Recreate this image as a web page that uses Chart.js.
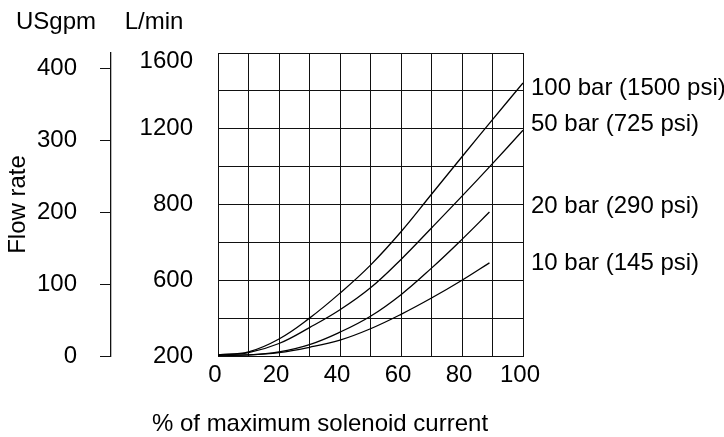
<!DOCTYPE html>
<html>
<head>
<meta charset="utf-8">
<script src="https://cdn.jsdelivr.net/npm/chart.js@4/dist/chart.umd.min.js"></script>
<style>
  html, body { margin: 0; padding: 0; background: #fff; }
  canvas { display: block; }
</style>
</head>
<body>
<canvas id="flow-chart" width="724" height="437"></canvas>
<script>
// x values: % of maximum solenoid current
const currentFull = [0, 10, 20, 30, 40, 50, 60, 70, 80, 90, 100];
const currentShort = [0, 10, 20, 30, 40, 50, 60, 70, 80, 89];

// flow in grid rows (0 = bottom line, 8 = top line)
const bar100 = [0.03, 0.11, 0.45, 1.0, 1.66, 2.40, 3.28, 4.27, 5.26, 6.24, 7.21];
const bar50 = [0.03, 0.09, 0.33, 0.75, 1.22, 1.80, 2.55, 3.38, 4.22, 5.08, 5.96];
const bar20 = [0.02, 0.03, 0.11, 0.30, 0.63, 1.05, 1.62, 2.32, 3.08, 3.80];
const bar10 = [0.02, 0.03, 0.09, 0.23, 0.42, 0.72, 1.10, 1.53, 2.00, 2.46];

const seriesNames = ['100 bar (1500 psi)', '50 bar (725 psi)', '20 bar (290 psi)', '10 bar (145 psi)'];

// L/min labels on the grid rows (the printed scale is not linear)
const litreTicks = ['200', '', '600', '', '800', '', '1200', '', '1600'];
// USgpm scale
const gpmTicks = [0, 100, 200, 300, 400];
const gpmMax = 422;

const xTitle = '% of maximum solenoid current';

const FONT = '"Liberation Sans", Arial, Helvetica, sans-serif';
const FS = 24;

function toPoints(xs, ys) {
    return xs.map((x, i) => ({ x: x, y: ys[i] }));
}

// headers, x title (wider than the plot) and curve names
const textPlugin = {
    id: 'textPlugin',
    afterDraw(chart) {
        const ctx = chart.ctx;
        const area = chart.chartArea;
        const yScale = chart.scales.y;
        ctx.save();
        ctx.fillStyle = '#000';
        ctx.font = FS + 'px ' + FONT;
        ctx.textBaseline = 'middle';
        ctx.textAlign = 'center';
        ctx.fillText('USgpm', chart.scales.gpm.right - 55, 22);
        ctx.fillText('L/min', yScale.left + 43, 22);
        ctx.fillText(xTitle, area.left + 102, chart.height - 13);

        ctx.textAlign = 'left';
        const nudge = [5, -6, -6, 1];
        chart.data.datasets.forEach((ds, i) => {
            const last = ds.data[ds.data.length - 1];
            const py = yScale.getPixelForValue(last.y) + nudge[i];
            ctx.fillText(seriesNames[i], area.right + 8, py);
        });
        ctx.restore();
    }
};

window.addEventListener('load', onLoad);

function onLoad() {
    const ctx = document.getElementById('flow-chart').getContext('2d');
    const lineStyle = {
        borderColor: '#000',
        borderWidth: 1.3,
        pointRadius: 0,
        fill: false,
        tension: 0.4
    };

    const flowChart = new Chart(ctx, {
        type: 'line',
        data: {
            datasets: [
                Object.assign({ label: seriesNames[0], data: toPoints(currentFull, bar100) }, lineStyle),
                Object.assign({ label: seriesNames[1], data: toPoints(currentFull, bar50) }, lineStyle),
                Object.assign({ label: seriesNames[2], data: toPoints(currentShort, bar20) }, lineStyle),
                Object.assign({ label: seriesNames[3], data: toPoints(currentShort, bar10) }, lineStyle)
            ]
        },
        options: {
            responsive: false,
            animation: false,
            devicePixelRatio: 1,
            layout: {
                padding: { top: 53, right: 201, bottom: 0, left: 0 }
            },
            plugins: {
                legend: { display: false },
                tooltip: { enabled: false }
            },
            scales: {
                x: {
                    type: 'linear',
                    min: 0,
                    max: 100,
                    grid: { color: '#111', lineWidth: 1, drawTicks: false },
                    border: { color: '#111' },
                    ticks: {
                        stepSize: 10,
                        padding: 5,
                        labelOffset: -3,
                        maxRotation: 0,
                        autoSkip: false,
                        color: '#000',
                        font: { family: FONT, size: FS },
                        callback: (v) => (v % 20 === 0 ? String(v) : '')
                    },
                    afterFit: (scale) => { scale.height = 81; }
                },
                y: {
                    type: 'linear',
                    position: 'left',
                    weight: 1,
                    min: 0,
                    max: 8,
                    grid: { color: '#111', lineWidth: 1, drawTicks: false },
                    border: { color: '#111' },
                    ticks: {
                        stepSize: 1,
                        padding: 25,
                        autoSkip: false,
                        color: '#000',
                        // the top label sits just under its line in the original
                        font: (c) => (c.tick && c.tick.value === 8
                            ? { family: FONT, size: FS, lineHeight: 0.72 }
                            : { family: FONT, size: FS }),
                        callback: (v) => (v === 8 ? ['', litreTicks[v]] : litreTicks[v])
                    },
                    afterFit: (scale) => { scale.width = 107; }
                },
                gpm: {
                    type: 'linear',
                    position: 'left',
                    weight: 2,
                    min: 0,
                    max: gpmMax,
                    grid: {
                        display: true,
                        drawOnChartArea: false,
                        drawTicks: true,
                        tickLength: 11,
                        color: '#111'
                    },
                    border: { display: true, color: '#111', width: 1.3 },
                    ticks: {
                        stepSize: 100,
                        includeBounds: false,
                        padding: 23,
                        color: '#000',
                        font: { family: FONT, size: FS },
                        callback: (v) => (gpmTicks.includes(v) ? String(v) : '')
                    },
                    title: {
                        display: true,
                        text: 'Flow rate',
                        color: '#000',
                        font: { family: FONT, size: FS },
                        padding: { top: 4, bottom: 0 }
                    },
                    afterFit: (scale) => { scale.width = 111; }
                }
            }
        },
        plugins: [textPlugin]
    });
}
</script>
</body>
</html>
